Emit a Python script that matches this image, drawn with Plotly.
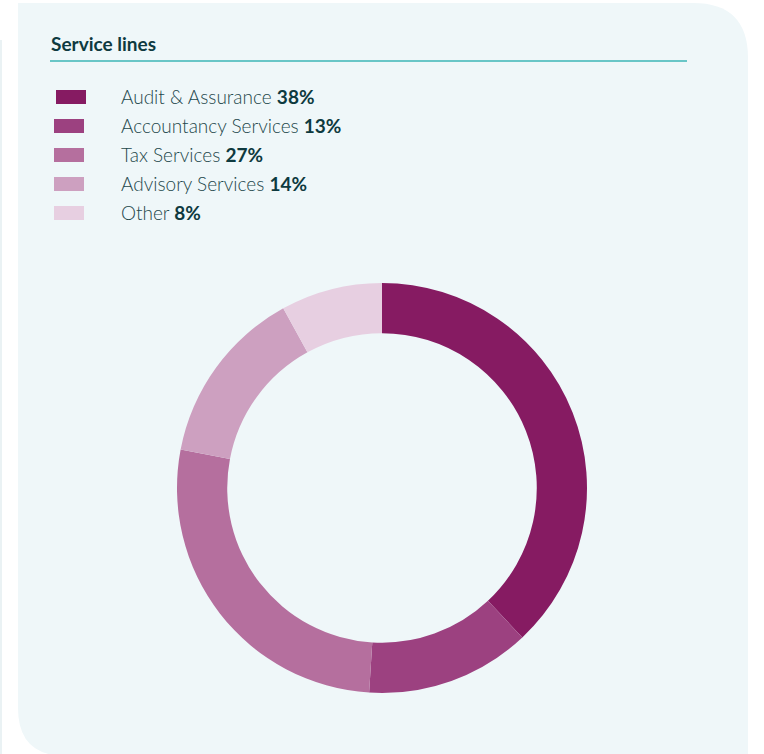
import plotly.graph_objects as go

# ---- data ----
categories = ["Audit & Assurance", "Accountancy Services", "Tax Services", "Advisory Services", "Other"]
values = [38, 13, 27, 14, 8]
colors = ["#861b62", "#9c4180", "#b56f9e", "#cda0c0", "#e7cfe1"]
title_text = "Service lines"

W, H = 764, 754
BG = "#eff7f9"
TXT = "#23474b"
DARK = "#0e3a3f"

fig = go.Figure()

# donut
cx, cy, R = 382, 488, 205
fig.add_trace(go.Pie(
    labels=categories, values=values, sort=False, direction="clockwise", rotation=0,
    hole=0.755, marker=dict(colors=colors, line=dict(width=0)),
    textinfo="none", showlegend=False, hoverinfo="label+percent",
    domain=dict(x=[(cx - R) / W, (cx + R) / W], y=[(H - cy - R) / H, (H - cy + R) / H]),
))

shapes = []
# faint page edge strip
shapes.append(dict(type="rect", xref="x", yref="y", x0=0, x1=2, y0=40, y1=H,
                   line=dict(width=0), fillcolor="#eaf2f4", layer="below"))
# panel with rounded top-right and bottom-left corners
L, T, Rr, B = 18, 3, 748, 756
r1, r2 = 55, 48
path = (f"M {L},{T} L {Rr - r1},{T} Q {Rr},{T} {Rr},{T + r1} L {Rr},{B} "
        f"L {L + r2},{B} Q {L},{B} {L},{B - r2} Z")
shapes.append(dict(type="path", xref="x", yref="y", path=path, fillcolor=BG,
                   line=dict(width=0), layer="below"))
# rule under title
shapes.append(dict(type="line", xref="x", yref="y", x0=50, x1=687, y0=61, y1=61,
                   line=dict(color="#3cb6b6", width=1.6)))

annotations = [dict(text=f"<b>{title_text}</b>", x=49, y=43, xref="x", yref="y",
                    xanchor="left", yanchor="middle", showarrow=False,
                    font=dict(family="Lato", size=19, color=DARK))]

row0, step = 97, 29
for i, (cat, val, col) in enumerate(zip(categories, values, colors)):
    yc = row0 + i * step
    x0 = 56 if i == 0 else 54
    shapes.append(dict(type="rect", xref="x", yref="y", x0=x0, x1=x0 + 30,
                       y0=yc - 7, y1=yc + 7, fillcolor=col, line=dict(width=0)))
    annotations.append(dict(
        text=f"{cat} <b><span style='color:{DARK}'>{val}%</span></b>",
        x=119, y=yc - 0.5, xref="x", yref="y", xanchor="left", yanchor="middle",
        showarrow=False, font=dict(family="Lato", size=19, color=TXT, weight=300)))

fig.update_layout(
    width=W, height=H, margin=dict(l=0, r=0, t=0, b=0),
    paper_bgcolor="white", plot_bgcolor="rgba(0,0,0,0)",
    xaxis=dict(range=[0, W], visible=False, fixedrange=True, domain=[0, 1]),
    yaxis=dict(range=[H, 0], visible=False, fixedrange=True, domain=[0, 1]),
    shapes=shapes, annotations=annotations, showlegend=False,
)

fig.write_html("out.html", config={"displayModeBar": False},
               post_script="document.body.style.margin='0';document.body.style.overflow='hidden';")
